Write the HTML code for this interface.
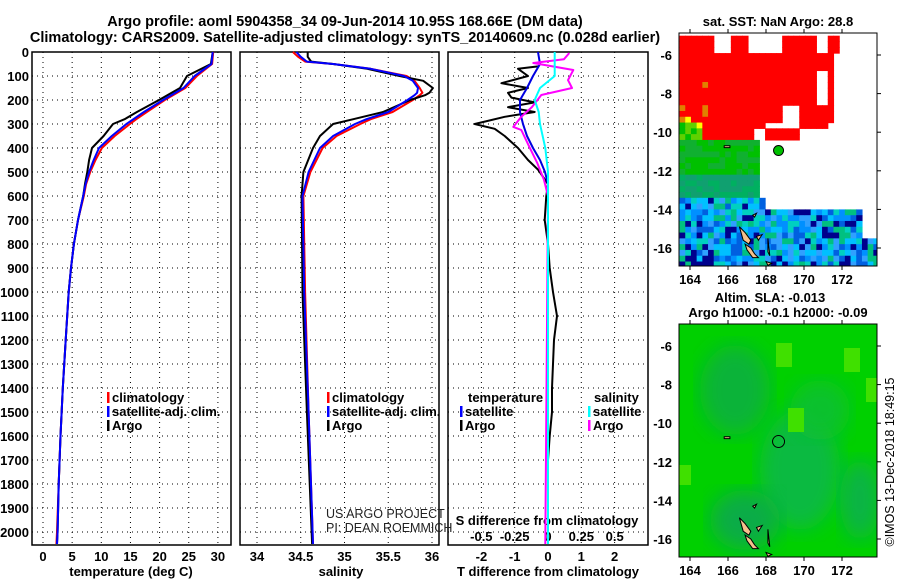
<!DOCTYPE html>
<html><head><meta charset="utf-8"><style>
body{margin:0;background:#fff}
svg{display:block;font-family:"Liberation Sans",sans-serif}
</style></head><body>
<svg id="c" width="900" height="580" viewBox="0 0 900 580">
<text x="345" y="26" text-anchor="middle" font-weight="bold" font-size="14.5">Argo profile: aoml 5904358_34 09-Jun-2014 10.95S 168.66E (DM data)</text>
<text x="345" y="42" text-anchor="middle" font-weight="bold" font-size="14.5">Climatology: CARS2009. Satellite-adjusted climatology: synTS_20140609.nc (0.028d earlier)</text>
</svg>
<script>
// ---- data ----
const tempDepth = [0,50,100,150,200,250,280,300,350,400,450,500,550,600,700,800,900,1000,1200,1400,1600,1800,2000,2050];
const tempArgo  = [29.1,28.8,24.7,23.5,19.9,16.1,14.0,12.0,10.4,8.4,7.9,7.6,7.2,6.9,6.0,5.3,4.8,4.4,3.9,3.4,3.0,2.7,2.5,2.4];
const tempClim  = [29.2,29.0,26.4,24.4,20.9,17.8,16.0,14.9,12.3,10.1,9.0,8.1,7.4,7.0,6.0,5.3,4.8,4.4,3.9,3.4,3.0,2.7,2.4,2.3];
const tempSat   = [29.1,28.9,26.0,24.1,20.6,17.3,15.5,14.3,11.8,9.6,8.7,7.9,7.3,6.9,6.0,5.3,4.8,4.4,3.9,3.4,3.0,2.7,2.5,2.4];
const salDepth = [0,20,40,50,70,100,120,150,170,180,200,250,280,300,350,400,500,600,1000,1500,2050];
const salArgo  = [34.58,34.58,34.62,34.87,35.26,35.63,35.90,36.01,35.97,35.92,35.75,35.44,35.10,34.87,34.72,34.64,34.53,34.51,34.52,34.57,34.63];
const salClim  = [34.41,34.47,34.55,34.87,35.30,35.71,35.80,35.86,35.89,35.86,35.78,35.55,35.30,35.18,34.91,34.75,34.61,34.53,34.55,34.59,34.64];
const salSat   = [34.45,34.50,34.57,34.87,35.30,35.68,35.78,35.84,35.83,35.80,35.72,35.50,35.25,35.12,34.87,34.72,34.59,34.52,34.54,34.59,34.64];
const tdDepth = [60,70,100,130,150,170,190,210,230,250,270,290,300,320,350,400,450,490,550,600,700,800,900,1000,1100,1200,1300,1400,1500,1600,1700,1800,2050];
const tdArgo  = [-0.3,-0.9,-0.6,-1.4,-0.6,-1.2,-1.1,-0.4,-1.2,-0.4,-1.3,-1.9,-2.2,-1.6,-1.3,-0.9,-0.6,-0.3,0.0,-0.05,-0.1,0.0,0.05,0.15,0.27,0.18,0.15,0.12,0.12,0.05,0.0,0.0,0.0];
const tsDepth = [0,50,100,150,200,250,300,350,400,450,500,550,2050];
const tdSat   = [-0.3,-0.24,-0.45,-0.63,-0.84,-0.84,-0.75,-0.63,-0.45,-0.24,-0.09,0.0,0.0];
const sdDepth = [0,100,150,200,250,300,400,500,2050];
const sdSat   = [0.05,0.05,-0.06,-0.1,-0.07,-0.06,-0.02,0.0,0.0];
const smDepth = [4,30,46,75,117,150,179,229,270,312,325,395,463,533,600,2050];
const sdArgo  = [0.16,0.12,-0.11,0.19,0.15,0.18,-0.05,-0.12,-0.2,-0.26,-0.2,-0.14,-0.08,-0.03,0.0,-0.02];
const depthTicks = [0,100,200,300,400,500,600,700,800,900,1000,1100,1200,1300,1400,1500,1600,1700,1800,1900,2000];
const tempTicks = [0,5,10,15,20,25,30];
const salTicks = [34,34.5,35,35.5,36];
const tdTicks = [-2,-1,0,1,2];
const sdTicks = [-0.5,-0.25,0,0.25,0.5];
const sdTickLabels = ["-0.5","-0.25","0","0.25","0.5"];
const latTicks = [-6,-8,-10,-12,-14,-16];
const lonTicks = [164,166,168,170,172];
const argoLon = 168.66, argoLat = -10.95;

// ---- helpers ----
const svg = document.getElementById('c');
const NS = 'http://www.w3.org/2000/svg';
function mk(tag, attrs, parent){const e=document.createElementNS(NS,tag);for(const k in attrs)e.setAttribute(k,attrs[k]);(parent||svg).appendChild(e);return e;}
function txt(x,y,s,anchor,cls,size){const t=mk('text',{x:x,y:y,'text-anchor':anchor||'start','font-weight':'bold','font-size':size||13});t.textContent=s;return t;}
const yD = d => 52 + d*0.24;
const xT = t => 43 + t*5.83;
const xS = s => 257 + (s-34)*87.5;
const xD = v => 548 + v*33.3;
const xSD = v => 548 + v*133.3;
const panels = [[32,231],[240,439],[448,648]];
const PB = 545;

panels.forEach((p,i)=>{
  const g = mk('g',{});
  
  
  depthTicks.forEach(d=>{
    const l = mk('line',{x1:p[0],x2:p[1],y1:yD(d),y2:yD(d),stroke:'#000','stroke-width':1,'stroke-dasharray':'1,4'},g);
    
    
  });
  const xs = i==0?tempTicks.map(xT):i==1?salTicks.map(xS):tdTicks.map(xD);
  xs.forEach(x=>{
    const l = mk('line',{x1:x,x2:x,y1:52,y2:PB,stroke:'#000','stroke-width':1,'stroke-dasharray':'1,4'},g);
    
    
  });
  const r = mk('rect',{x:p[0],y:52,width:p[1]-p[0],height:PB-52,fill:'none',stroke:'#000','stroke-width':1.5},g);
  
  
});

depthTicks.forEach(d=>{
  const t = txt(29,yD(d)+5,String(d),'end');
  
  
});
tempTicks.forEach(v=>{const t=txt(xT(v),561,String(v),'middle');});
salTicks.forEach(v=>{const t=txt(xS(v),561,String(v),'middle');});
tdTicks.forEach(v=>{const t=txt(xD(v),561,String(v),'middle');});
sdTicks.forEach((v,i)=>{const t=txt(xSD(v),541,sdTickLabels[i],'middle');});

let t;
t=txt(131,576,'temperature (deg C)','middle');
t=txt(341,576,'salinity','middle');
t=txt(548,576,'T difference from climatology','middle');
t=txt(547,525,'S difference from climatology','middle');

function line(depths, vals, xf, color, w, name){
  const pts = depths.map((d,i)=>xf(vals[i]).toFixed(1)+','+yD(d).toFixed(1)).join(' ');
  const pl = mk('polyline',{points:pts,fill:'none',stroke:color,'stroke-width':w,'stroke-linejoin':'round'});
  
  
}
line(tempDepth,tempClim,xT,'#f00',2,'temperature-climatology-line');
line(tempDepth,tempArgo,xT,'#000',2,'temperature-argo-line');
line(tempDepth,tempSat,xT,'#00f',2,'temperature-satellite-line');
line(salDepth,salClim,xS,'#f00',2,'salinity-climatology-line');
line(salDepth,salArgo,xS,'#000',2,'salinity-argo-line');
line(salDepth,salSat,xS,'#00f',2,'salinity-satellite-line');
line(tdDepth,tdArgo,xD,'#000',2,'t-diff-argo-line');
line(tsDepth,tdSat,xD,'#0000e0',2,'t-diff-satellite-line');
line(smDepth,sdArgo,xSD,'#f0f',2,'s-diff-argo-line');
line(sdDepth,sdSat,xSD,'#0ff',2,'s-diff-satellite-line');

function legend(x,y,color,label,name){
  const g=mk('g',{});
  
  
  mk('rect',{x:x,y:y-10,width:2.5,height:11,fill:color},g);
  const tt=mk('text',{x:x+5,y:y,'font-weight':'bold','font-size':13},g);tt.textContent=label;
}
legend(107,402,'#f00','climatology','legend-climatology');
legend(107,416,'#00f','satellite-adj. clim.','legend-satellite-adj');
legend(107,430,'#000','Argo','legend-argo');
legend(327,402,'#f00','climatology','legend-sal-climatology');
legend(327,416,'#00f','satellite-adj. clim.','legend-sal-satellite-adj');
legend(327,430,'#000','Argo','legend-sal-argo');
t=txt(468,402,'temperature');
t=txt(594,402,'salinity');
legend(460,416,'#00f','satellite','legend-t-satellite');
legend(460,430,'#000','Argo','legend-t-argo');
legend(588,416,'#0ff','satellite','legend-s-satellite');
legend(588,430,'#f0f','Argo','legend-s-argo');
t=mk('text',{x:326,y:518,'font-size':12.5,fill:'#222'});t.textContent='US ARGO PROJECT';
t=mk('text',{x:326,y:532,'font-size':12.5,fill:'#222'});t.textContent='PI: DEAN ROEMMICH';

// ---- maps ----
function mapGeom(top){ return {x0:679,x1:877,y0:top,y1:top+233,lon:l=>690+(l-164)*19,lat:a=>top+22+(-6-a)*19.3}; }
const m1 = mapGeom(33), m2 = mapGeom(324);
function hash(i,j){let h=(i*374761393+j*668265263)^0x5bd1e995;h=(h^(h>>>13))*1274126177;return ((h^(h>>>16))>>>0)/4294967296;}
function sstColor(lon,lat,r,rc){
  if(lat>-10.3 && lon<171){
    if(lon>=167.3 && lat<-9.6) return rc<0.45?'#f00':null;
    if(lon>165 && rc<0.22) return null;
    if(lon<165 && lat<-7.2 && lat>-9.6 && r<0.35) return ['#e08000','#ff0','#0c0','#f00'][Math.floor(r*11)%4];
    if(lon<164.6 && lat<-9.5) return r<0.5?'#00c000':'#60d000';
    return '#f00'; }
  if(lat>-10.3 && lon>=171) return (lat>-10 && lon<171.8 && rc<0.4)?'#f00':null;
  if(lat>-13.3 && lon>167.6) return null;
  if(lat>-13.3) return lat>-12.2?(r<0.5?'#00c000':'#10b030'):(r<0.5?'#00b060':'#10a070');
  if(lat>-14 && lon>167.8) return null;
  if(lon>172.9 && lat>-15.3) return null;
  const c=['#00c0ff','#0090ff','#00d0c0','#0060e0','#00008c','#00c080','#30a0ff'];
  return c[Math.floor(r*7)];
}
(function(){
  const g=mk('g',{});
  
  
  const step=0.3;
  for(let lon=163.45;lon<173.9;lon+=step){for(let lat=-5;lat>-17;lat-=step){
    const r=hash(Math.round(lon*10),Math.round(lat*10));
    const rc=hash(Math.floor((lon-163.45)/0.9+0.01)+7,Math.floor((-5-lat)/0.9+0.01)+3);
    const c=sstColor(lon,lat,r,rc); if(!c) continue;
    const x=m1.lon(lon), y=m1.lat(lat);
    mk('rect',{x:Math.max(x,m1.x0),y:Math.max(y,m1.y0),width:step*19+0.6,height:step*19.3+0.6,fill:c},g);
  }}
  const cp=mk('clipPath',{id:'cp1'});mk('rect',{x:679,y:33,width:198,height:233},cp);
  g.setAttribute('clip-path','url(#cp1)');
})();
(function(){
  const g=mk('g',{'clip-path':'url(#cp2)'});
  
  
  const cp=mk('clipPath',{id:'cp2'});mk('rect',{x:679,y:324,width:198,height:233},cp);
  mk('rect',{x:679,y:324,width:198,height:233,fill:'#00d000'},g);
  const f=mk('filter',{id:'bl'});mk('feGaussianBlur',{stdDeviation:10},f);
  [[735,390,35,45,'#10b040'],[800,470,40,60,'#10b848'],[745,520,35,30,'#10a850'],[860,500,20,40,'#10b050'],[820,410,30,30,'#08c030']].forEach(e=>mk('ellipse',{cx:e[0],cy:e[1],rx:e[2],ry:e[3],fill:e[4],filter:'url(#bl)',opacity:0.9},g));
  [[784,355,8,12],[852,360,8,12],[796,420,8,12],[872,390,6,12],[685,475,6,10]].forEach(e=>mk('rect',{x:e[0]-e[2],y:e[1]-e[3],width:e[2]*2,height:e[3]*2,fill:'#40e000'},g));
})();
function islands(m,name){
  const g=mk('g',{});
  
  
  const P=[[[166.6,-14.9],[166.9,-15.2],[167.2,-15.6],[167.1,-15.8],[166.8,-15.6]],[[166.9,-15.8],[167.2,-16],[167.4,-16.3],[167.6,-16.5],[167.3,-16.5],[167.0,-16.1]],[[167.5,-15.4],[167.8,-15.3],[167.6,-15.6]],[[168.1,-15.5],[168.2,-16.4],[168.1,-16.2]],[[165.8,-10.7],[166.1,-10.7],[166.1,-10.8],[165.8,-10.8]],[[167.3,-14.3],[167.5,-14.2],[167.4,-14.4]],[[168.0,-16.7],[168.3,-16.8],[168.1,-16.9]]];
  P.forEach(pp=>mk('polygon',{points:pp.map(q=>m.lon(q[0])+','+m.lat(q[1])).join(' '),fill:'#f5c08c',stroke:'#000','stroke-width':1},g));
}
islands(m1,'sst-map-islands');islands(m2,'sla-map-islands');
[m1,m2].forEach((m,i)=>{
  const g=mk('g',{});
  
  
  mk('rect',{x:m.x0,y:m.y0,width:198,height:233,fill:'none',stroke:'#000','stroke-width':1},g);
  latTicks.forEach(a=>{const y=m.lat(a);mk('line',{x1:m.x1,x2:m.x1+4,y1:y,y2:y,stroke:'#000'},g);const tt=mk('text',{x:672,y:y+5,'text-anchor':'end','font-weight':'bold','font-size':13},g);tt.textContent=String(a);});
  lonTicks.forEach(l=>{const x=m.lon(l);mk('line',{x1:x,x2:x,y1:m.y1,y2:m.y1+4,stroke:'#000'},g);mk('line',{x1:x,x2:x,y1:m.y0,y2:m.y0-4,stroke:'#000'},g);const tt=mk('text',{x:x,y:m.y1+18,'text-anchor':'middle','font-weight':'bold','font-size':13},g);tt.textContent=String(l);});
});
let c1=mk('circle',{cx:m1.lon(argoLon),cy:m1.lat(argoLat),r:5,fill:'#00c000',stroke:'#000','stroke-width':1});

let c2=mk('circle',{cx:m2.lon(argoLon),cy:m2.lat(argoLat),r:6,fill:'none',stroke:'#000','stroke-width':1});

t=txt(778,26,'sat. SST: NaN Argo: 28.8','middle');
t=txt(770,302,'Altim. SLA: -0.013','middle');
t=txt(778,317,'Argo h1000: -0.1 h2000: -0.09','middle');
t=mk('text',{x:0,y:0,'font-size':12.5,'text-anchor':'middle',transform:'translate(894,462) rotate(-90)'});t.textContent='©IMOS 13-Dec-2018 18:49:15';
</script>
</body></html>
